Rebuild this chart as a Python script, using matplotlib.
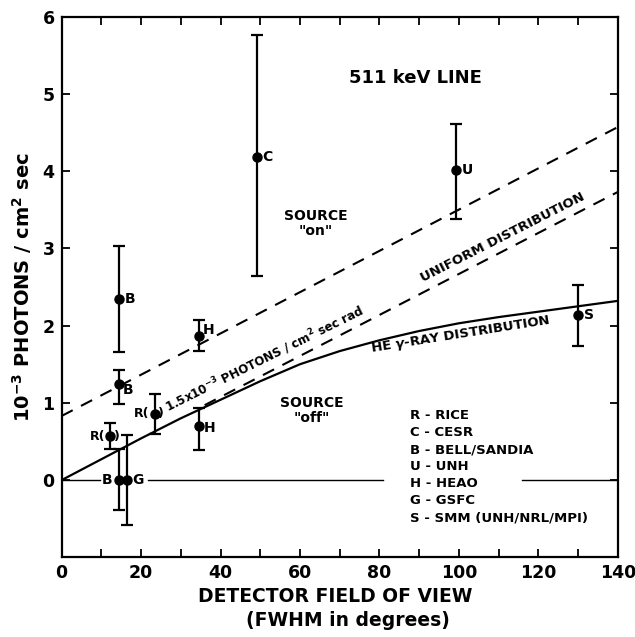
import matplotlib
matplotlib.use("Agg")
import matplotlib.pyplot as plt
import numpy as np

plt.rcParams['font.family'] = ['DejaVu Sans']
plt.rcParams['font.weight'] = 'bold'

# ---- data ----
pt_labels = ["C", "U", "S", "B", "B", "H", "H", "R", "R", "B", "G"]
pt_x = [49.2, 99.2, 130.0, 14.4, 14.4, 34.5, 34.5, 23.4, 12.2, 14.4, 16.4]
pt_y = [4.18, 4.01, 2.14, 2.35, 1.24, 1.86, 0.70, 0.86, 0.565, 0.0, 0.0]
err_lo = [2.645, 3.385, 1.73, 1.66, 0.99, 1.67, 0.39, 0.60, 0.40, -0.39, -0.58]
err_hi = [5.755, 4.61, 2.525, 3.03, 1.43, 2.07, 0.93, 1.12, 0.74, 0.40, 0.59]

src_on_x = [0, 140]
src_on_y = [0.83, 4.57]

uniform_x = [36, 140]
uniform_y = [0.97, 3.73]

he_x = [0, 10, 20, 30, 40, 50, 60, 70, 80, 90, 100, 110, 120, 130, 140]
he_y = [0, 0.27, 0.54, 0.80, 1.04, 1.28, 1.50, 1.67, 1.81, 1.93, 2.03, 2.11, 2.18, 2.25, 2.32]

zero_segs = [(0, 9.6), (21.8, 80.8), (115.8, 140)]

legend_lines = ["R - RICE", "C - CESR", "B - BELL/SANDIA", "U - UNH",
                "H - HEAO", "G - GSFC", "S - SMM (UNH/NRL/MPI)"]

xticks = [0, 20, 40, 60, 80, 100, 120, 140]
yticks = [0, 1, 2, 3, 4, 5, 6]

fig = plt.figure(figsize=(6.35, 6.37), dpi=100)
ax = fig.add_axes([0.097, 0.125, 0.876, 0.849])
ax.set_xlim(0, 140)
ax.set_ylim(-1, 6)

# zero line segments
for a, b in zero_segs:
    ax.plot([a, b], [0, 0], color='black', lw=1.0)

ax.plot(src_on_x, src_on_y, color='black', lw=1.5, dashes=(6, 4.5))
ax.plot(uniform_x, uniform_y, color='black', lw=1.5, dashes=(6, 4.5))
ax.plot(he_x, he_y, color='black', lw=1.6)

yerr = [np.array(pt_y) - np.array(err_lo), np.array(err_hi) - np.array(pt_y)]
ax.errorbar(pt_x, pt_y, yerr=yerr, fmt='o', color='black', ms=6.5,
            elinewidth=1.6, capsize=4.5, capthick=1.6)

fs_lab = 10
# point labels
offs = {0: (1.4, 0.0, 'left'), 1: (1.4, 0.0, 'left'), 2: (1.6, 0.0, 'left'),
        3: (1.4, 0.0, 'left'), 4: (0.9, -0.07, 'left'), 5: (1.0, 0.08, 'left'),
        6: (1.4, -0.03, 'left'), 9: (-1.6, 0.0, 'right'), 10: (1.4, 0.0, 'left')}
for i, (dx, dy, ha) in offs.items():
    ax.text(pt_x[i] + dx, pt_y[i] + dy, pt_labels[i], fontsize=fs_lab,
            ha=ha, va='center', fontweight='bold')

# R( ) labels
for i in (7, 8):
    ax.text(pt_x[i] - 1.2, pt_y[i], "R(", fontsize=9, ha='right', va='center')
    ax.text(pt_x[i] + 0.9, pt_y[i], ")", fontsize=9, ha='left', va='center')

ax.text(51.2, 1.57, r"1.5x10$^{-3}$ PHOTONS / cm$^{2}$ sec rad", fontsize=8.6,
        rotation=26.5, ha='center', va='center', rotation_mode='anchor')

ax.text(111, 3.14, "UNIFORM DISTRIBUTION", fontsize=9.5, rotation=27,
        ha='center', va='center', rotation_mode='anchor')
ax.text(100.4, 1.88, r"HE $\gamma$-RAY DISTRIBUTION", fontsize=9.5, rotation=9,
        ha='center', va='center', rotation_mode='anchor')

ax.text(89, 5.21, "511 keV LINE", fontsize=13, ha='center', va='center')
ax.text(64, 3.42, "SOURCE", fontsize=10, ha='center', va='center')
ax.text(64, 3.23, '"on"', fontsize=10, ha='center', va='center')
ax.text(63, 1.0, "SOURCE", fontsize=10, ha='center', va='center')
ax.text(63, 0.81, '"off"', fontsize=10, ha='center', va='center')

for k, line in enumerate(legend_lines):
    ax.text(87.7, 0.835 - k * 0.22, line, fontsize=9.5, ha='left', va='center')

ax.set_xticks(xticks)
ax.set_xticks(np.arange(0, 141, 10), minor=True)
ax.set_yticks(yticks)
ax.tick_params(axis='both', which='both', direction='in', top=True, right=True,
               length=6, width=1.3, labelsize=12.5, pad=5)
for lab in ax.get_xticklabels() + ax.get_yticklabels():
    lab.set_fontweight('bold')
for s in ax.spines.values():
    s.set_linewidth(1.6)

fig.text(335 / 635, 1 - 597 / 637, "DETECTOR FIELD OF VIEW", fontsize=13.5,
         fontweight='bold', ha='center', va='center')
fig.text(348 / 635, 1 - 620 / 637, "(FWHM in degrees)", fontsize=13.5,
         fontweight='bold', ha='center', va='center')
ax.set_ylabel(r"10$^{-3}$ PHOTONS / cm$^{2}$ sec", fontsize=14,
              fontweight='bold', labelpad=6)

fig.savefig("out.png", dpi=100)
